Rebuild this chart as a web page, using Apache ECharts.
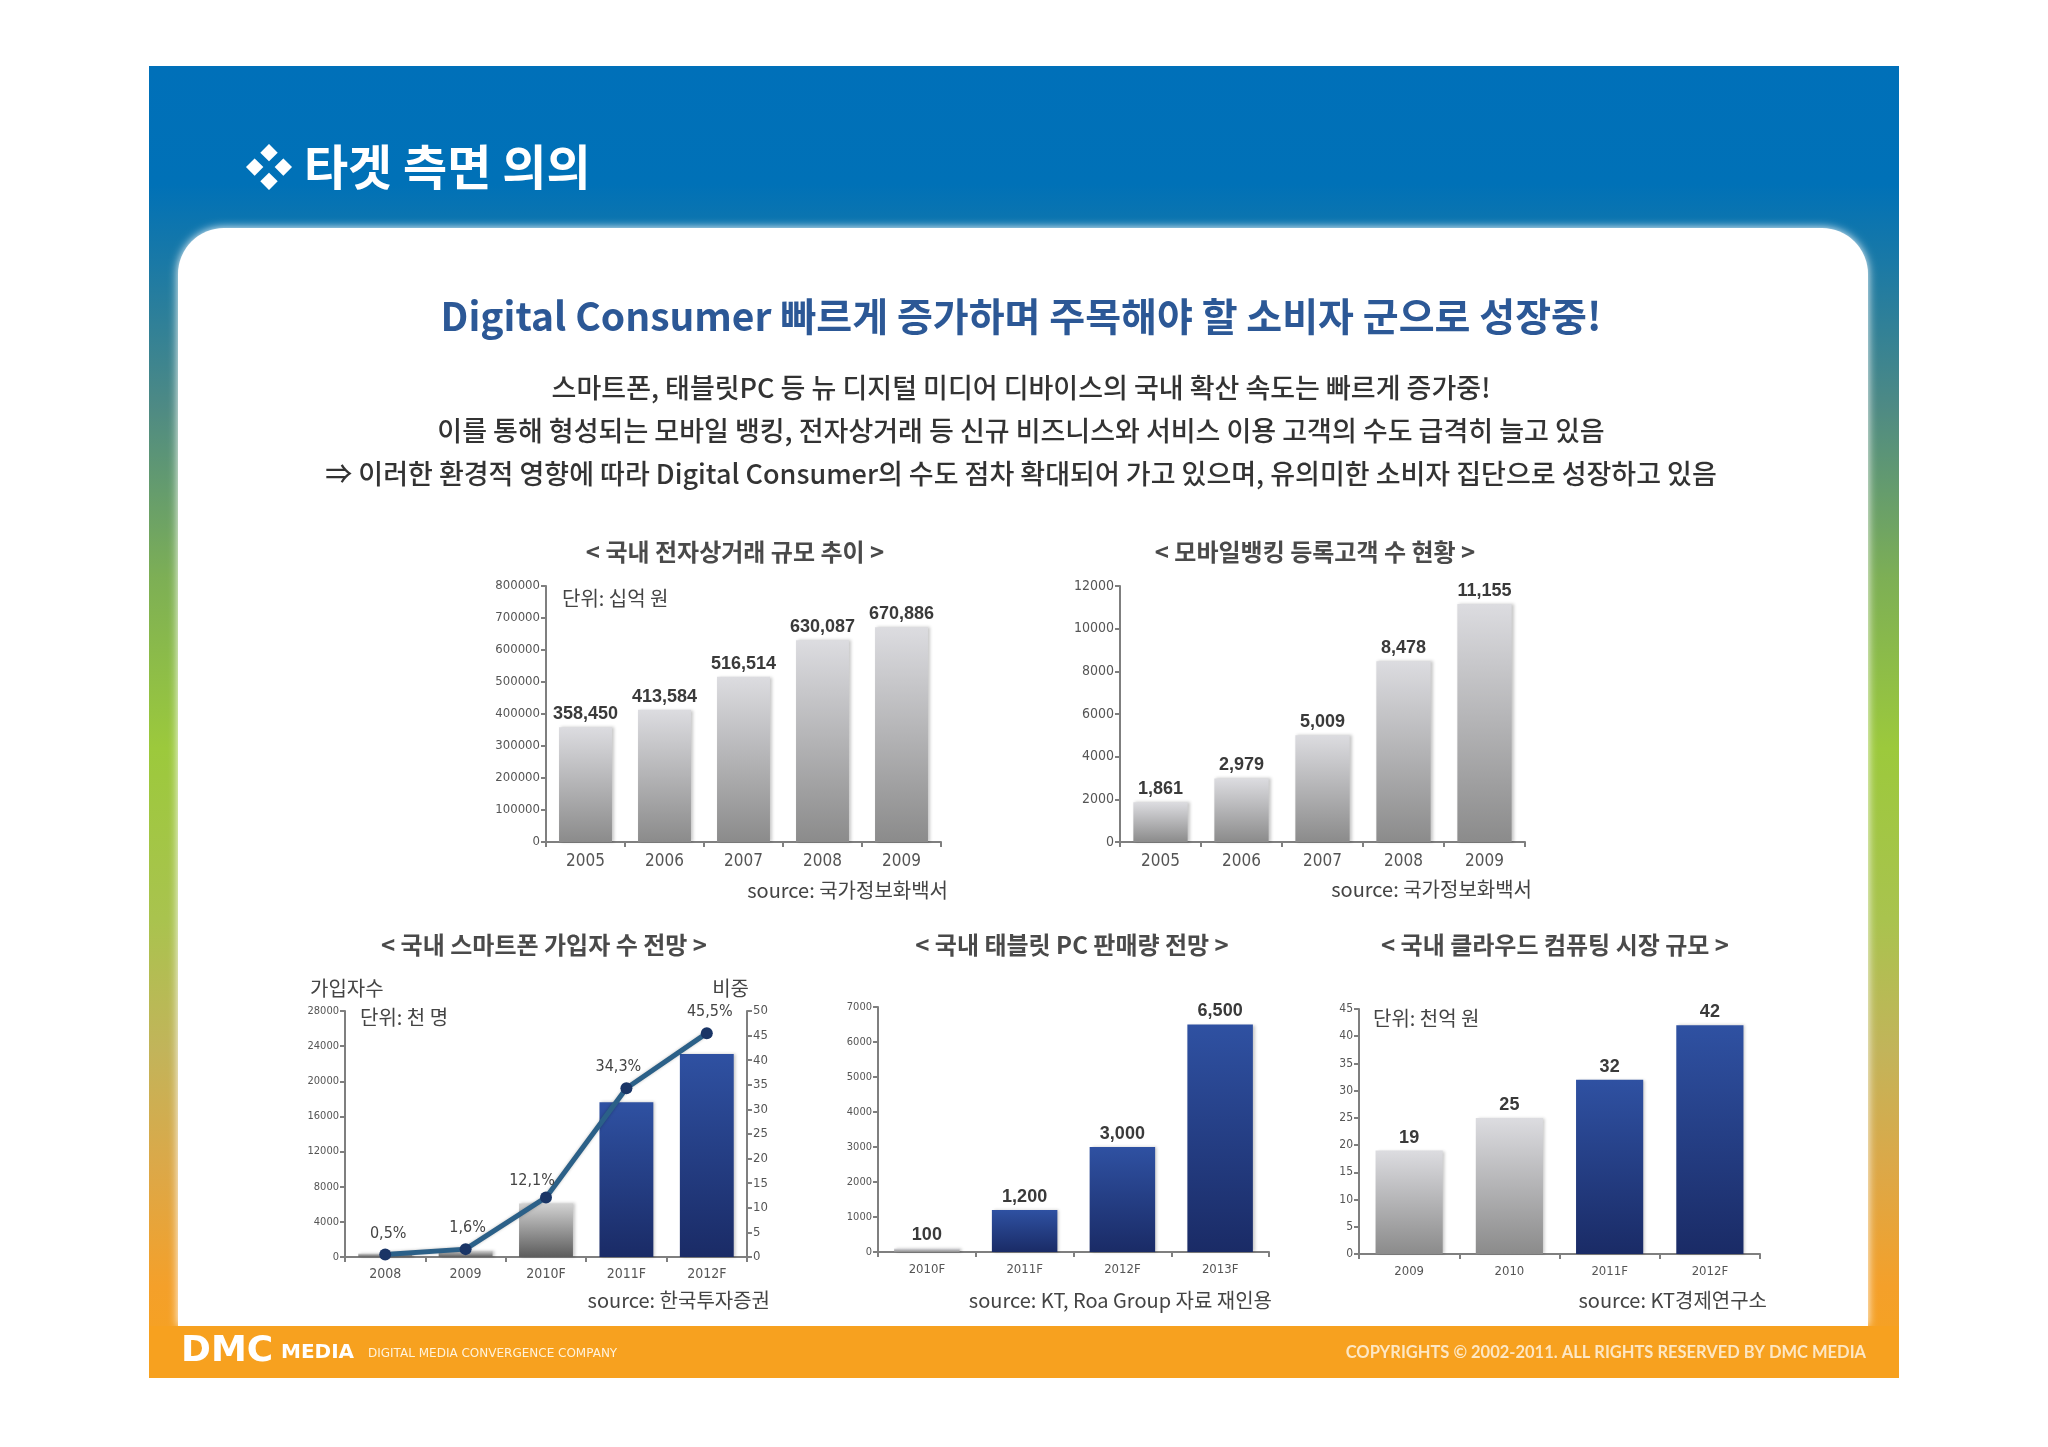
<!DOCTYPE html>
<html><head><meta charset="utf-8">
<script src="https://cdn.jsdelivr.net/npm/echarts@6/dist/echarts.min.js"></script>
<style>html,body{margin:0;padding:0;background:#fff}#c{width:2048px;height:1447px}</style>
</head><body><div id="c"></div>
<script>
// ---------- DATA ----------
const ecomYears = ['2005', '2006', '2007', '2008', '2009'];
const ecomValues = [358450, 413584, 516514, 630087, 670886];
const bankYears = ['2005', '2006', '2007', '2008', '2009'];
const bankValues = [1861, 2979, 5009, 8478, 11155];
const phoneYears = ['2008', '2009', '2010F', '2011F', '2012F'];
const phoneSubs = [400, 700, 6100, 17600, 23100];
const phoneShare = [0.5, 1.6, 12.1, 34.3, 45.5];
const tabletYears = ['2010F', '2011F', '2012F', '2013F'];
const tabletValues = [100, 1200, 3000, 6500];
const cloudYears = ['2009', '2010', '2011F', '2012F'];
const cloudValues = [19, 25, 32, 42];

// ---------- STYLE ----------
const NARROW = '"Liberation Sans Narrow","DejaVu Sans Condensed","Roboto Condensed","Liberation Sans",Arial,sans-serif';
const SANS = '"Liberation Sans",Arial,sans-serif';
const KR = '"Noto Sans CJK KR","Noto Sans",sans-serif';
const AX = '#7f7f7f';
const TICKC = '#555';

const grayGrad = {type:'linear',x:0,y:0,x2:0,y2:1,colorStops:[{offset:0,color:'#dcdce0'},{offset:1,color:'#8b8b8b'}]};
const grayDark = {type:'linear',x:0,y:0,x2:0,y2:1,colorStops:[{offset:0,color:'#d2d2d2'},{offset:1,color:'#5c5c5c'}]};
const blueGrad = {type:'linear',x:0,y:0,x2:0,y2:1,colorStops:[{offset:0,color:'#2f51a2'},{offset:1,color:'#1a2b66'}]};
const phoneColors = [grayDark, grayDark, grayDark, blueGrad, blueGrad];
const tabletColors = [grayGrad, blueGrad, blueGrad, blueGrad];
const cloudColors = [grayGrad, grayGrad, blueGrad, blueGrad];
const pctShift = [[3,0],[2,0],[-14,4],[-8,0],[3,0]];

function xAx(grid, data, size, margin){
  return {type:'category', gridIndex:grid, data:data,
    axisLine:{show:true, lineStyle:{color:AX, width:2}},
    axisTick:{show:true, length:5, lineStyle:{color:AX, width:2}},
    axisLabel:{color:TICKC, fontFamily:NARROW, fontSize:size, margin:margin}};
}
function yAx(grid, max, interval, size, pos){
  return {type:'value', gridIndex:grid, min:0, max:max, interval:interval, position:pos||'left',
    axisLine:{show:true, lineStyle:{color:AX, width:2}},
    axisTick:{show:true, length:5, lineStyle:{color:AX, width:2}},
    splitLine:{show:false},
    axisLabel:{color:TICKC, fontFamily:NARROW, fontSize:size, margin:6, formatter:v=>String(v)}};
}
function barLabel(){
  return {show:true, position:'top', distance:4, color:'#3a3a3a', fontFamily:SANS, fontWeight:'bold', fontSize:18,
    formatter:p=>Number(p.value).toLocaleString('en-US')};
}
function barSeries(x, y, vals, colors){
  return {type:'bar', xAxisIndex:x, yAxisIndex:y, barWidth:'67%',
    data: vals.map((v,i)=>({value:v, itemStyle:{color: colors ? colors[i] : grayGrad}})),
    itemStyle:{shadowColor:'rgba(0,0,0,0.22)', shadowBlur:3, shadowOffsetX:2},
    label: barLabel(), z:3};
}
function txt(x, y, text, font, fill, align){
  align = align || 'center';
  return {type:'text', x:x, y:y, z:100,
    style:{text:text, font:font, fill:fill, textAlign:align, align:align, textVerticalAlign:'middle', verticalAlign:'middle'}};
}

const slideGrad = {type:'linear',x:0,y:0,x2:0,y2:1,colorStops:[
  {offset:0,color:'#0070b9'},{offset:0.09,color:'#0071b7'},{offset:0.15,color:'#1a79a6'},
  {offset:0.26,color:'#4e8a84'},{offset:0.39,color:'#7daf55'},{offset:0.52,color:'#9cc93c'},
  {offset:0.65,color:'#a9c34e'},{offset:0.75,color:'#c2b45a'},{offset:0.84,color:'#dca848'},
  {offset:0.93,color:'#f4a02a'},{offset:1,color:'#f7a21e'}]};

const TF = 'bold 24px ' + KR;
const SF = '20px ' + KR;
const UF = '20px ' + KR;
const BF = '500 27px ' + KR;

const graphics = [
  {type:'rect', z:-100, shape:{x:149,y:66,width:1750,height:1312}, style:{fill:slideGrad}},
  {type:'rect', z:-90, shape:{x:178,y:228,width:1690,height:1098,r:[46,46,0,0]},
    style:{fill:'#ffffff', shadowBlur:10, shadowColor:'rgba(255,255,255,1)'}},
  {type:'rect', z:-80, shape:{x:149,y:1326,width:1750,height:52}, style:{fill:'#f7a11f'}},
  txt(245, 167, '❖ 타겟 측면 의의', 'bold 48px ' + KR, '#ffffff', 'left'),
  txt(1021, 316, 'Digital Consumer 빠르게 증가하며 주목해야 할 소비자 군으로 성장중!', 'bold 39px ' + KR, '#2c5896'),
  txt(1021, 388, '스마트폰, 태블릿PC 등 뉴 디지털 미디어 디바이스의 국내 확산 속도는 빠르게 증가중!', BF, '#333333'),
  txt(1021, 431, '이를 통해 형성되는 모바일 뱅킹, 전자상거래 등 신규 비즈니스와 서비스 이용 고객의 수도 급격히 늘고 있음', BF, '#333333'),
  txt(1021, 474, '⇒ 이러한 환경적 영향에 따라 Digital Consumer의 수도 점차 확대되어 가고 있으며, 유의미한 소비자 집단으로 성장하고 있음', BF, '#333333'),
  // chart titles
  txt(735, 552, '< 국내 전자상거래 규모 추이 >', TF, '#4a4a4a'),
  txt(1315, 552, '< 모바일뱅킹 등록고객 수 현황 >', TF, '#4a4a4a'),
  txt(544, 945, '< 국내 스마트폰 가입자 수 전망 >', TF, '#4a4a4a'),
  txt(1072, 945, '< 국내 태블릿 PC 판매량 전망 >', TF, '#4a4a4a'),
  txt(1555, 945, '< 국내 클라우드 컴퓨팅 시장 규모 >', TF, '#4a4a4a'),
  // units
  txt(562, 598, '단위: 십억 원', UF, '#444444', 'left'),
  txt(360, 1017, '단위: 천 명', UF, '#444444', 'left'),
  txt(1373, 1018, '단위: 천억 원', UF, '#444444', 'left'),
  txt(310, 988, '가입자수', UF, '#444444', 'left'),
  txt(749, 988, '비중', UF, '#444444', 'right'),
  // sources
  txt(948, 890, 'source: 국가정보화백서', SF, '#444444', 'right'),
  txt(1532, 889, 'source: 국가정보화백서', SF, '#444444', 'right'),
  txt(770, 1300, 'source: 한국투자증권', SF, '#444444', 'right'),
  txt(1272, 1300, 'source: KT, Roa Group 자료 재인용', SF, '#444444', 'right'),
  txt(1767, 1300, 'source: KT경제연구소', SF, '#444444', 'right'),
  // footer
  txt(181, 1352, 'DMC', 'bold 36px "DejaVu Sans",sans-serif', '#ffffff', 'left'),
  txt(281, 1353, 'MEDIA', 'bold 20px "DejaVu Sans",sans-serif', '#ffffff', 'left'),
  txt(368, 1354, 'DIGITAL MEDIA CONVERGENCE COMPANY', '12px "DejaVu Sans",sans-serif', '#fff3dc', 'left'),
  txt(1866, 1353, 'COPYRIGHTS © 2002-2011. ALL RIGHTS RESERVED BY DMC MEDIA', 'bold 16.5px Lato,sans-serif', '#fde7c4', 'right')
];

const option = {
  backgroundColor:'#ffffff',
  animation:false,
  graphic: graphics,
  grid:[
    {left:546, top:586, width:395, height:256},
    {left:1120, top:586, width:405, height:256},
    {left:345, top:1011, width:402, height:246},
    {left:878, top:1007, width:391, height:245},
    {left:1359, top:1009, width:401, height:245}
  ],
  xAxis:[
    xAx(0, ecomYears, 17, 11),
    xAx(1, bankYears, 17, 11),
    xAx(2, phoneYears, 14, 10),
    xAx(3, tabletYears, 13, 11),
    xAx(4, cloudYears, 13, 11)
  ],
  yAxis:[
    yAx(0, 800000, 100000, 13),
    yAx(1, 12000, 2000, 14),
    yAx(2, 28000, 4000, 11),
    yAx(2, 50, 5, 13, 'right'),
    yAx(3, 7000, 1000, 11),
    yAx(4, 45, 5, 12)
  ],
  series:[
    barSeries(0, 0, ecomValues),
    barSeries(1, 1, bankValues),
    barSeries(2, 2, phoneSubs, phoneColors),
    {type:'line', xAxisIndex:2, yAxisIndex:3, z:5,
      data: phoneShare.map((v,i)=>({value:v, label:{offset:pctShift[i]}})),
      symbol:'circle', symbolSize:12,
      itemStyle:{color:'#1a3566'},
      lineStyle:{color:'#2b6088', width:5, shadowColor:'rgba(0,0,0,0.25)', shadowBlur:3},
      label:{show:true, position:'top', distance:7, color:'#444', fontFamily:NARROW, fontSize:16,
        formatter:p=>p.value.toFixed(1).replace('.', ',') + '%'}},
    barSeries(3, 4, tabletValues, tabletColors),
    barSeries(4, 5, cloudValues, cloudColors)
  ]
};
// the smartphone bars carry no value labels in the original
option.series[2].label = {show:false};
const chart = echarts.init(document.getElementById('c'), null, {renderer:'canvas'});
chart.setOption(option);
</script>
</body></html>
